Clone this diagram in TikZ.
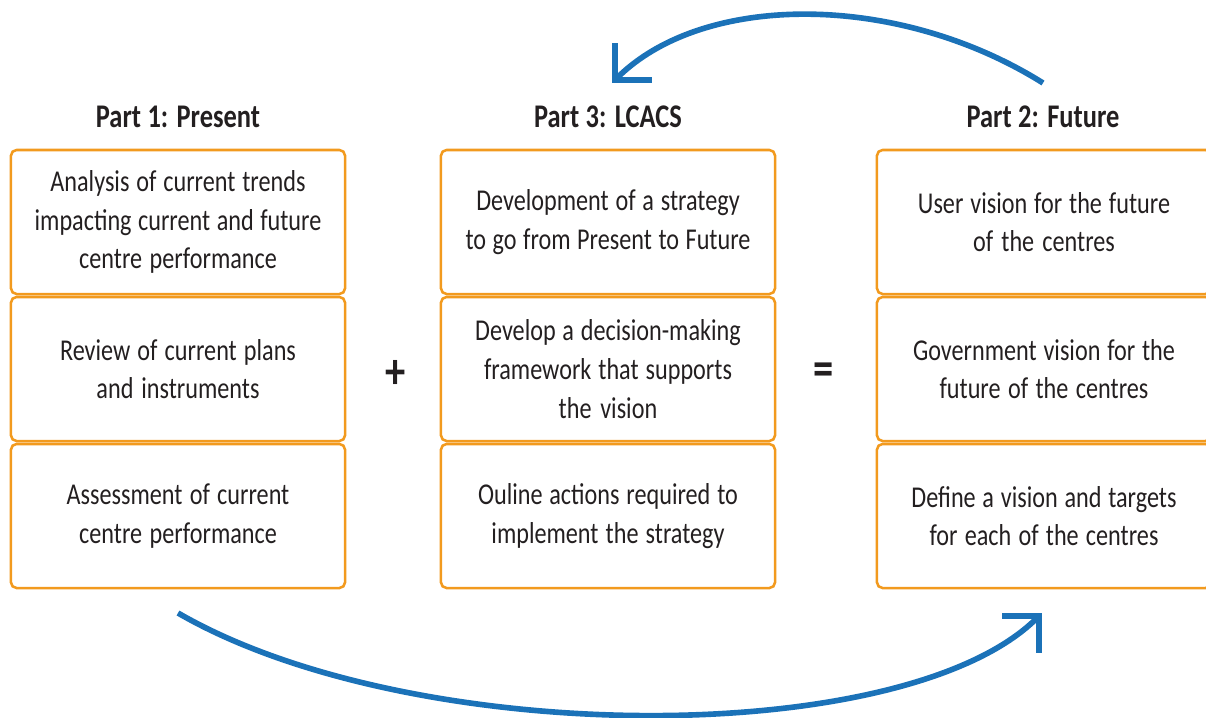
\documentclass[tikz,border=0pt]{standalone}
\usepackage{fontspec}
\setmainfont{Carlito}[FakeStretch=0.8]
\usetikzlibrary{arrows.meta}
\definecolor{boxorange}{HTML}{F29A1E}
\definecolor{arrowblue}{HTML}{1B72B8}
\definecolor{textblack}{HTML}{231F20}
\newcommand\tightspace[1]{\fontdimen2\font=#1\spaceskip=#1 plus 1pt minus 1pt\relax}

\begin{document}
\begin{tikzpicture}[x=0.025cm,y=-0.025cm,text=textblack]
		\tikzstyle{BoxStyle}=[draw=boxorange,line width=1.8pt,rounded corners=4pt,
		  minimum width=8.35cm,minimum height=3.6cm,text width=7.9cm,align=center,
		  font=\fontsize{21.5}{27.5}\selectfont,execute at begin node={\tightspace{4.4pt}}]
		\tikzstyle{HeadStyle}=[font=\bfseries\fontsize{23.5}{27}\selectfont,
		  execute at begin node={\tightspace{4.6pt}}]
		\tikzstyle{SignStyle}=[font=\bfseries\fontsize{36}{36}\selectfont]
		\tikzstyle{EdgeStyle}=[draw=arrowblue,line width=4pt,
		  -{Straight Barb[length=6.5mm,width=13mm,line width=4pt]}]
		\useasboundingbox (0,0) rectangle (1206,718);
		\clip (0,0) rectangle (1206,718);
		% headers
		\node[HeadStyle] (present) at (178,117) {Part 1: Present};
		\node[HeadStyle] (lcacs) at (608,117) {Part 3: LCACS};
		\node[HeadStyle] (future) at (1043,117) {Part 2: Future};
		% Part 1
		\node[BoxStyle] (P1) at (178,222) {Analysis of current trends\\ impacting current and future\\ centre performance};
		\node[BoxStyle] (P2) at (178,369) {Review of current plans\\ and instruments};
		\node[BoxStyle] (P3) at (178,516) {Assessment of current\\ centre performance};
		% Part 3
		\node[BoxStyle] (L1) at (608,222) {Development of a strategy\\ to go from Present to Future};
		\node[BoxStyle] (L2) at (608,369) {Develop a decision-making\\ framework that supports\\ the vision};
		\node[BoxStyle] (L3) at (608,516) {Ouline actions required to\\ implement the strategy};
		% Part 2
		\node[BoxStyle] (F1) at (1044,222) {User vision for the future\\ of the centres};
		\node[BoxStyle] (F2) at (1044,369) {Government vision for the\\ future of the centres};
		\node[BoxStyle] (F3) at (1044,516) {Define a vision and targets\\ for each of the centres};
		% signs
		\node[SignStyle] (plus) at (396,374) {+};
		\node[SignStyle] (equals) at (824,374) {=};
		% arrows
		\coordinate (futTop) at (1043,83);
		\coordinate (lcacsTop) at (612,83);
		\coordinate (presentBot) at (178,613);
		\coordinate (futBot) at (1042,613);
		\draw[EdgeStyle] (futTop) .. controls (898,-8) and (703,-8) .. (lcacsTop);
		\draw[EdgeStyle] (presentBot) .. controls (413,749) and (906,749) .. (futBot);
	\end{tikzpicture}
\end{document}
